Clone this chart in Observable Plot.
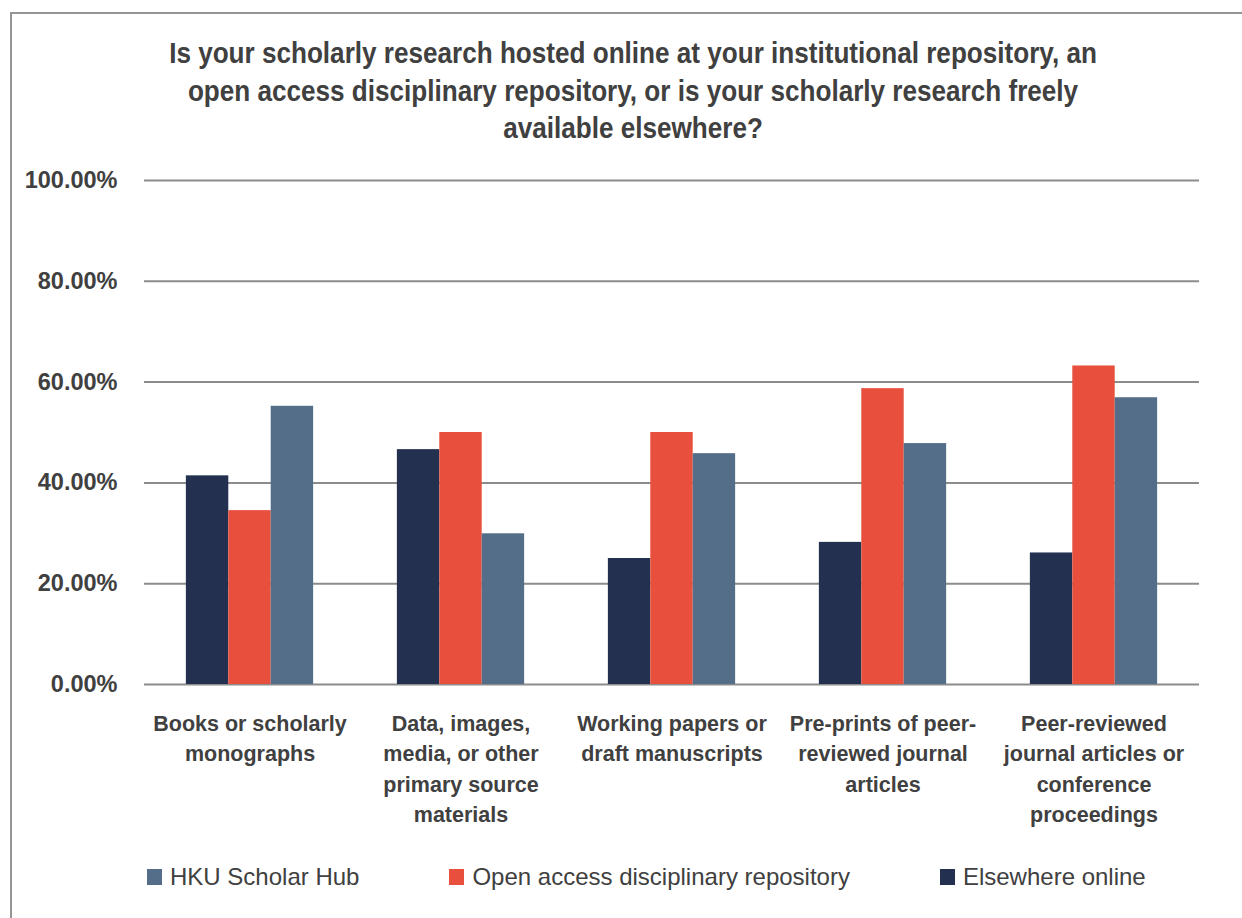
<!DOCTYPE html>
<html>
<head>
<meta charset="utf-8">
<script src="https://cdn.jsdelivr.net/npm/d3@7"></script>
<script src="https://cdn.jsdelivr.net/npm/@observablehq/plot@0.6"></script>
<style>
  html, body { margin: 0; padding: 0; background: #fff; }
  #frame {
    position: relative; width: 1242px; height: 918px; overflow: hidden;
    font-family: "Liberation Sans", Arial, sans-serif; color: #404040;
  }
  #frame::before {
    content: ""; position: absolute; left: 10px; top: 12px; right: -10px; bottom: -10px;
    border-top: 2px solid #959595; border-left: 2px solid #959595;
  }
  #title {
    position: absolute; left: 83px; width: 1100px; top: 34px;
    text-align: center; font-weight: bold; font-size: 30px; line-height: 37.5px;
    white-space: nowrap;
    transform: scaleX(0.87); transform-origin: 550px 0;
  }
  #chart { position: absolute; left: 0; top: 160px; }
  #legend {
    position: absolute; left: 147px; top: 862px; display: flex; gap: 90px;
    font-size: 24px; line-height: 30px;
  }
  .item { display: flex; align-items: center; gap: 8px; }
  .swatch { width: 15px; height: 16px; }
</style>
</head>
<body>
<div id="frame">
  <div id="title">Is your scholarly research hosted online at your institutional repository, an<br>open access disciplinary repository, or is your scholarly research freely<br>available elsewhere?</div>
  <div id="chart"></div>
  <div id="legend"></div>
</div>
<script>
// Survey categories (tick labels, with their line breaks)
const categories = [
  "Books or scholarly\nmonographs",
  "Data, images,\nmedia, or other\nprimary source\nmaterials",
  "Working papers or\ndraft manuscripts",
  "Pre-prints of peer-\nreviewed journal\narticles",
  "Peer-reviewed\njournal articles or\nconference\nproceedings"
];

// Series, in the order the bars sit within each group
const seriesNames = ["Elsewhere online", "Open access disciplinary repository", "HKU Scholar Hub"];
const seriesColors = ["#24304f", "#e8503d", "#546e89"];

// Share of respondents (%) per category
const elsewhereOnline      = [41.4, 46.6, 25.0, 28.2, 26.1];
const openAccessRepository = [34.5, 50.0, 50.0, 58.7, 63.2];
const hkuScholarHub        = [55.2, 29.9, 45.8, 47.8, 56.9];

const yTicks = [0, 20, 40, 60, 80, 100];
const legendOrder = ["HKU Scholar Hub", "Open access disciplinary repository", "Elsewhere online"];

const seriesValues = [elsewhereOnline, openAccessRepository, hkuScholarHub];
const rows = categories.flatMap((category, i) =>
  seriesNames.map((series, s) => ({category, series, value: seriesValues[s][i]}))
);

const chart = Plot.plot({
  width: 1242,
  height: 680,
  marginLeft: 143,
  marginRight: 42,
  marginTop: 20,
  marginBottom: 156,
  style: {fontFamily: '"Liberation Sans", Arial, sans-serif', background: "transparent", color: "#404040"},
  fx: {domain: categories, paddingInner: 0, paddingOuter: 0, axis: null, label: null},
  x: {domain: seriesNames, paddingInner: 0, paddingOuter: 0.987, axis: null, round: false},
  y: {domain: [0, 100], axis: null},
  color: {domain: seriesNames, range: seriesColors},
  marks: [
    Plot.gridY({ticks: yTicks, stroke: "#8c8c8c", strokeOpacity: 1, strokeWidth: 2}),
    Plot.barY(rows, {fx: "category", x: "series", y: "value", fill: "series"}),
    Plot.axisY({
      ticks: yTicks, tickSize: 0, tickPadding: 27,
      tickFormat: d => d.toFixed(2) + "%",
      fontSize: 23.5, fontWeight: "bold", fill: "#404040", label: null
    }),
    Plot.axisFx({
      anchor: "bottom", tickSize: 0, tickPadding: 25,
      fontSize: 21.5, fontWeight: "bold", lineHeight: 1.41, fill: "#404040", label: null
    })
  ]
});
document.getElementById("chart").appendChild(chart);

// Legend below the chart
const legend = document.getElementById("legend");
for (const name of legendOrder) {
  const item = document.createElement("div");
  item.className = "item";
  const sw = document.createElement("span");
  sw.className = "swatch";
  sw.style.background = seriesColors[seriesNames.indexOf(name)];
  const label = document.createElement("span");
  label.textContent = name;
  item.append(sw, label);
  legend.appendChild(item);
}
</script>
</body>
</html>
